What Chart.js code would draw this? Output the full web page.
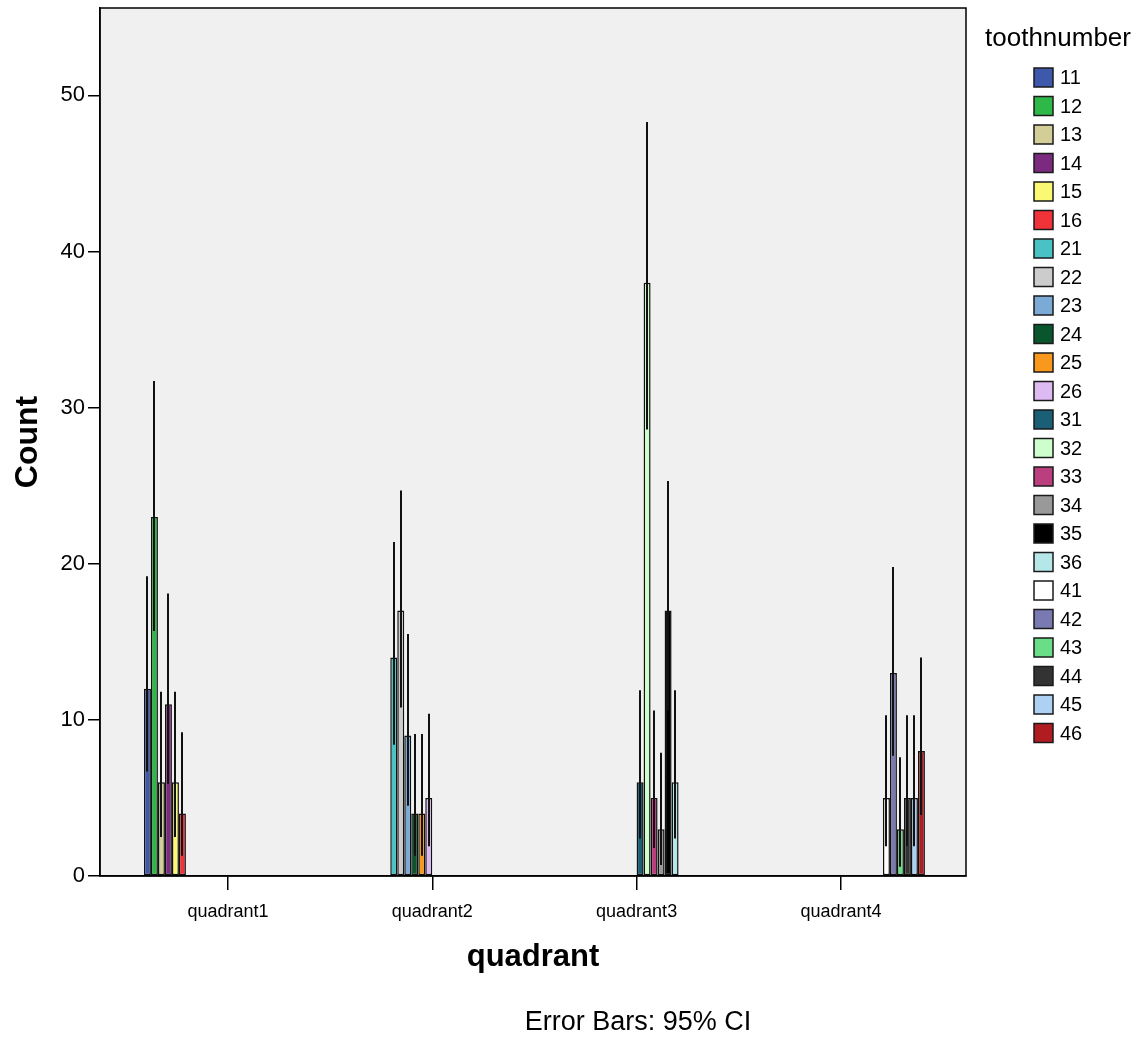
<!DOCTYPE html>
<html>
<head>
<meta charset="utf-8">
<script src="https://cdn.jsdelivr.net/npm/chart.js@4.4.1/dist/chart.umd.min.js"></script>
<style>
  html, body { margin: 0; padding: 0; background: #ffffff; }
  #wrap { width: 1144px; height: 1038px; }
</style>
</head>
<body>
<div id="wrap"><canvas id="c" width="1144" height="1038"></canvas></div>
<script>
// ---------- data ----------
const quadrants = ['quadrant1', 'quadrant2', 'quadrant3', 'quadrant4'];
const toothNumbers = ['11','12','13','14','15','16','21','22','23','24','25','26',
                      '31','32','33','34','35','36','41','42','43','44','45','46'];
const counts  = [12, 23, 6, 11, 6, 4,   14, 17, 9, 4, 4, 5,   6, 38, 5, 3, 17, 6,   5, 13, 3, 5, 5, 8];
const ciLower = [6.7, 15.7, 2.5, 5.9, 2.5, 1.3,   8.4, 10.8, 4.5, 1.3, 1.3, 1.9,
                 2.4, 28.6, 1.8, 0.7, 10.6, 2.4,   1.9, 7.7, 0.6, 1.9, 1.9, 3.9];
const ciUpper = [19.2, 31.7, 11.8, 18.1, 11.8, 9.2,   21.4, 24.7, 15.5, 9.1, 9.1, 10.4,
                 11.9, 48.3, 10.6, 7.9, 25.3, 11.9,   10.3, 19.8, 7.6, 10.3, 10.3, 14.0];
const yTicks = [0, 10, 20, 30, 40, 50];
const legendTitle = 'toothnumber';
const xTitle = 'quadrant';
const yTitle = 'Count';
const footnote = 'Error Bars: 95% CI';

// ---------- styles ----------
const colors = ['#3e58ac','#2eb848','#d3ce97','#7c2a80','#fbf873','#ef3338',
                '#48c2c5','#cccccc','#7aaad5','#0a562c','#f8981d','#ddbaf1',
                '#1a5f76','#ccffcc','#bb3f7f','#999999','#000000','#b6e7e8',
                '#ffffff','#797ab2','#6ade86','#333333','#add1f2','#b11c21'];
const FONT = '"Liberation Sans", Arial, Helvetica, sans-serif';

const toothQuadrant = toothNumbers.map(t => Number(t[0]) - 1);

const datasets = toothNumbers.map((t, i) => ({
  label: t,
  data: quadrants.map((q, qi) => qi === toothQuadrant[i] ? counts[i] : null),
  backgroundColor: colors[i],
  borderColor: '#111111',
  borderWidth: 1.5,
  borderSkipped: false,
  categoryPercentage: 0.822,
  barPercentage: 1.0
}));

const framePlugin = {
  id: 'frame',
  beforeDraw(chart) {
    const {ctx, chartArea: a} = chart;
    ctx.save();
    ctx.fillStyle = '#ffffff';
    ctx.fillRect(0, 0, chart.width, chart.height);
    ctx.fillStyle = '#f0f0f0';
    ctx.fillRect(a.left, a.top, a.right - a.left, a.bottom - a.top);
    ctx.restore();
  },
  afterDatasetsDraw(chart) {
    const {ctx, chartArea: a} = chart;
    const y = chart.scales.y;
    ctx.save();
    // error bars
    ctx.strokeStyle = '#111111';
    ctx.lineWidth = 2;
    chart.data.datasets.forEach((ds, di) => {
      const meta = chart.getDatasetMeta(di);
      const bar = meta.data[toothQuadrant[di]];
      if (!bar) return;
      const x = Math.round(bar.x);
      ctx.beginPath();
      ctx.moveTo(x, y.getPixelForValue(ciLower[di]));
      ctx.lineTo(x, y.getPixelForValue(ciUpper[di]));
      ctx.stroke();
    });
    // frame
    ctx.strokeStyle = '#000000';
    ctx.lineWidth = 1.5;
    ctx.strokeRect(a.left, a.top, a.right - a.left, a.bottom - a.top);
    ctx.restore();
  },
  afterDraw(chart) {
    const {ctx} = chart;
    ctx.save();
    ctx.fillStyle = '#000000';
    // legend title
    ctx.font = '26px ' + FONT;
    ctx.textAlign = 'center';
    ctx.textBaseline = 'middle';
    ctx.fillText(legendTitle, 1058, 39);
    // legend items
    ctx.font = '20px ' + FONT;
    ctx.textAlign = 'left';
    chart.data.datasets.forEach((ds, i) => {
      const cy = 77.5 + i * 28.5;
      ctx.fillStyle = ds.backgroundColor;
      ctx.fillRect(1034, cy - 9.5, 19, 19);
      ctx.strokeStyle = '#1a1a1a';
      ctx.lineWidth = 1.5;
      ctx.strokeRect(1034, cy - 9.5, 19, 19);
      ctx.fillStyle = '#000000';
      ctx.fillText(ds.label, 1060, cy + 1);
    });
    // footnote
    ctx.font = '27px ' + FONT;
    ctx.textAlign = 'center';
    ctx.fillText(footnote, 638, 1023);
    ctx.restore();
  }
};

Chart.defaults.color = '#000000';
Chart.defaults.font.family = FONT;

new Chart(document.getElementById('c'), {
  type: 'bar',
  data: { labels: quadrants, datasets },
  plugins: [framePlugin],
  options: {
    responsive: false,
    animation: false,
    devicePixelRatio: 1,
    layout: { padding: { left: 0, right: 178, top: 8, bottom: 0 } },
    plugins: { legend: { display: false }, tooltip: { enabled: false } },
    scales: {
      x: {
        type: 'category',
        offset: true,
        afterBuildTicks(s) {
          s._startValue = -0.626;
          s._valueRange = 4.238;
        },
        afterFit(s) { s.height = 162; s.paddingLeft = 0; s.paddingRight = 0; },
        grid: { display: true, drawOnChartArea: false, drawTicks: true, tickLength: 14,
                offset: false, color: '#000000', lineWidth: 1.5 },
        border: { display: true, color: '#000000', width: 1.5 },
        ticks: { font: { size: 18 }, padding: 11, maxRotation: 0, color: '#000000' },
        title: { display: true, text: xTitle, font: { size: 31, weight: 'bold', lineHeight: 1 },
                 padding: { top: 0, bottom: 65 }, color: '#000000' }
      },
      y: {
        min: 0,
        max: 55.6,
        afterBuildTicks(s) { s.ticks = yTicks.map(v => ({ value: v })); },
        afterFit(s) { s.width = 100; s.paddingTop = 0; s.paddingBottom = 0; },
        grid: { display: true, drawOnChartArea: false, drawTicks: true, tickLength: 12,
                color: '#000000', lineWidth: 1.5 },
        border: { display: true, color: '#000000', width: 1.5 },
        ticks: { font: { size: 22 }, padding: 3, color: '#000000' },
        title: { display: true, text: yTitle, font: { size: 32, weight: 'bold', lineHeight: 1 },
                 padding: { top: 12, bottom: 0 }, color: '#000000' }
      }
    }
  }
});
</script>
</body>
</html>
